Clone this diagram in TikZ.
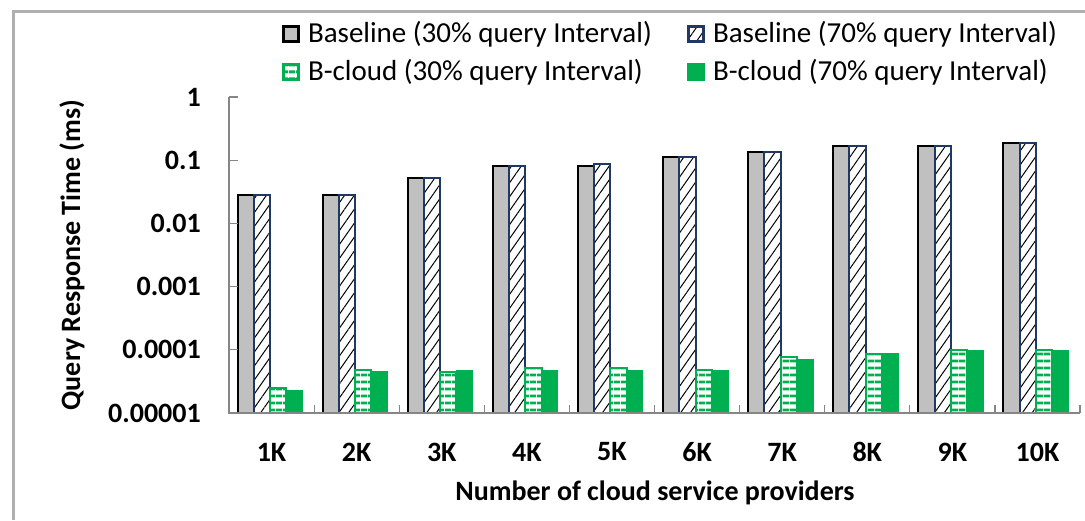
\documentclass[tikz,border=0pt]{standalone}
\usepackage{fontspec}
\setmainfont{Carlito}
\usetikzlibrary{patterns.meta,positioning}
\definecolor{bargray}{RGB}{192,192,192}
\definecolor{barblue}{RGB}{31,56,100}
\definecolor{bargreen}{RGB}{0,176,80}
\definecolor{axisgray}{RGB}{134,134,134}
\definecolor{framegray}{RGB}{175,175,175}
\tikzset{
	base30/.style={draw=black,line width=2pt,fill=bargray},
	base70/.style={draw=barblue,line width=2pt,pattern={Lines[angle=55,distance=8pt,line width=1pt]},pattern color=black},
	cloud30/.style={draw=bargreen,line width=2pt,pattern={Lines[angle=0,distance=6.5pt,line width=3pt]},pattern color=bargreen},
	cloud70/.style={draw=bargreen,line width=1pt,fill=bargreen},
	axis/.style={draw=axisgray,line width=1.2pt},
	ticklabel/.style={font=\fontsize{28}{30}\selectfont\bfseries,inner sep=0pt},
	legendkey/.style={minimum size=15pt,inner sep=0pt,line width=2.6pt},
	legendtext/.style={font=\fontsize{29}{32}\selectfont,inner sep=0pt},
}
\begin{document}
\begin{tikzpicture}[x=1pt,y=1pt,line join=miter]
	\useasboundingbox (0,0) rectangle (1085,520);
	\draw[framegray,line width=3pt] (13,0) -- (13,508.5) -- (1085,508.5);
	% bars, values in units of 1e-4 ms
	\foreach \a/\b/\c/\d/\lab [count=\i from 0] in {280/280/0.246/0.231/1K,280/280/0.479/0.45/2K,520/520/0.45/0.479/3K,810/810/0.51/0.479/4K,810/860/0.51/0.479/5K,1110/1110/0.479/0.479/6K,1350/1350/0.76/0.71/7K,1680/1680/0.86/0.86/8K,1680/1680/0.99/0.99/9K,1890/1890/0.99/0.99/10K}{
		\pgfmathsetmacro\xl{229+85.1*\i+8.5}
		\draw[base30] (\xl,107) rectangle (\xl+16.25,{170.2+63.2*log10(\a)});
		\draw[base70] (\xl+16.25,107) rectangle (\xl+32.5,{170.2+63.2*log10(\b)});
		\draw[cloud30] (\xl+32.5,107) rectangle (\xl+48.75,{170.2+63.2*log10(\c)});
		\draw[cloud70] (\xl+48.75,107) rectangle (\xl+65,{170.2+63.2*log10(\d)});
		\node[ticklabel] (xl\i) at (229+85.1*\i+42.55,68) {\lab};
	}
	\draw[axis] (229,423) -- (229,107) -- (1080,107);
	\foreach \j in {1,...,10}
		\draw[axis] (229+85.1*\j,107) -- ++(0,8);
	\foreach \v [count=\k from 0] in {0.00001,0.0001,0.001,0.01,0.1,1}{
		\draw[axis] (229,107+63.2*\k) -- ++(9,0);
		\node[ticklabel,anchor=east] (yl\k) at (201,107+63.2*\k) {\v};
	}
	\node[ticklabel,rotate=90] (ytitle) at (72,265) {Query Response Time (ms)};
	\node[ticklabel] (xtitle) at (655,27) {Number of cloud service providers};
	% legend
	\node[base30,legendkey] (key1) at (291,486) {};
	\node[legendtext,right=8pt of key1] (leg1) {Baseline (30\% query Interval)};
	\node[base70,legendkey] (key2) at (696,486) {};
	\node[legendtext,right=8pt of key2] (leg2) {Baseline (70\% query Interval)};
	\node[cloud30,legendkey] (key3) at (291,448) {};
	\node[legendtext,right=8pt of key3] (leg3) {B-cloud (30\% query Interval)};
	\node[cloud70,legendkey] (key4) at (696,448) {};
	\node[legendtext,right=8pt of key4] (leg4) {B-cloud (70\% query Interval)};
\end{tikzpicture}
\end{document}
